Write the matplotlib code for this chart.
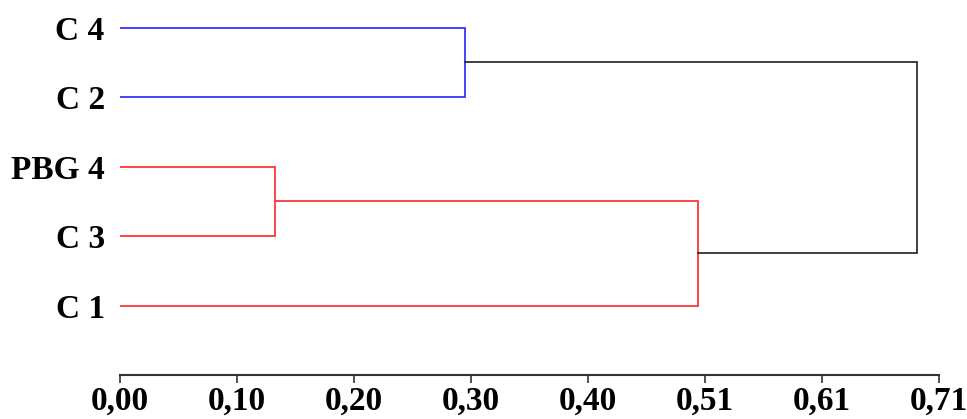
import numpy as np
import matplotlib.pyplot as plt

leaves = ["C 4", "C 2", "PBG 4", "C 3", "C 1"]
# merges: (cluster a, cluster b, height, colour); new clusters get ids 5, 6, 7, 8
merge_a = [0, 2, 6, 5]
merge_b = [1, 3, 4, 7]
merge_h = [0.298, 0.134, 0.500, 0.689]
merge_c = ["#3535ff", "#ff3535", "#ff3535", "#303030"]
xmax = 0.708
tick_labels = ["0,00", "0,10", "0,20", "0,30", "0,40", "0,51", "0,61", "0,71"]

fig = plt.figure(figsize=(9.67, 4.19), dpi=100)
ax = fig.add_axes([120/967, 44/419, (939-120)/967, 1 - 44/419])

# cluster positions: y (leaf order) and x (height)
n = len(leaves)
ypos = {i: i + 1 for i in range(n)}
xpos = {i: 0.0 for i in range(n)}
for k in range(len(merge_h)):
    a, b, h, c = merge_a[k], merge_b[k], merge_h[k], merge_c[k]
    ax.plot([xpos[a], h, h, xpos[b]], [ypos[a], ypos[a], ypos[b], ypos[b]],
            color=c, lw=1.3, solid_joinstyle='miter')
    ypos[n + k] = (ypos[a] + ypos[b]) / 2
    xpos[n + k] = h

ax.set_xlim(0, xmax)
ax.set_ylim(6, 0.6)
ax.set_yticks(range(1, n + 1))
ax.set_yticklabels(leaves)
ax.set_xticks(np.linspace(0, xmax, len(tick_labels)))
ax.set_xticklabels(tick_labels)

for lab in ax.get_xticklabels() + ax.get_yticklabels():
    lab.set_fontfamily("Liberation Serif")
    lab.set_fontweight("bold")
    lab.set_fontsize(24)

ax.tick_params(axis='y', length=0, pad=11)
ax.tick_params(axis='x', length=6, width=1.2, pad=2, color="#333333")
for s in ["top", "right", "left"]:
    ax.spines[s].set_visible(False)
ax.spines["bottom"].set_linewidth(1.5)
ax.spines["bottom"].set_color("#333333")

fig.savefig("out.png", dpi=100)
